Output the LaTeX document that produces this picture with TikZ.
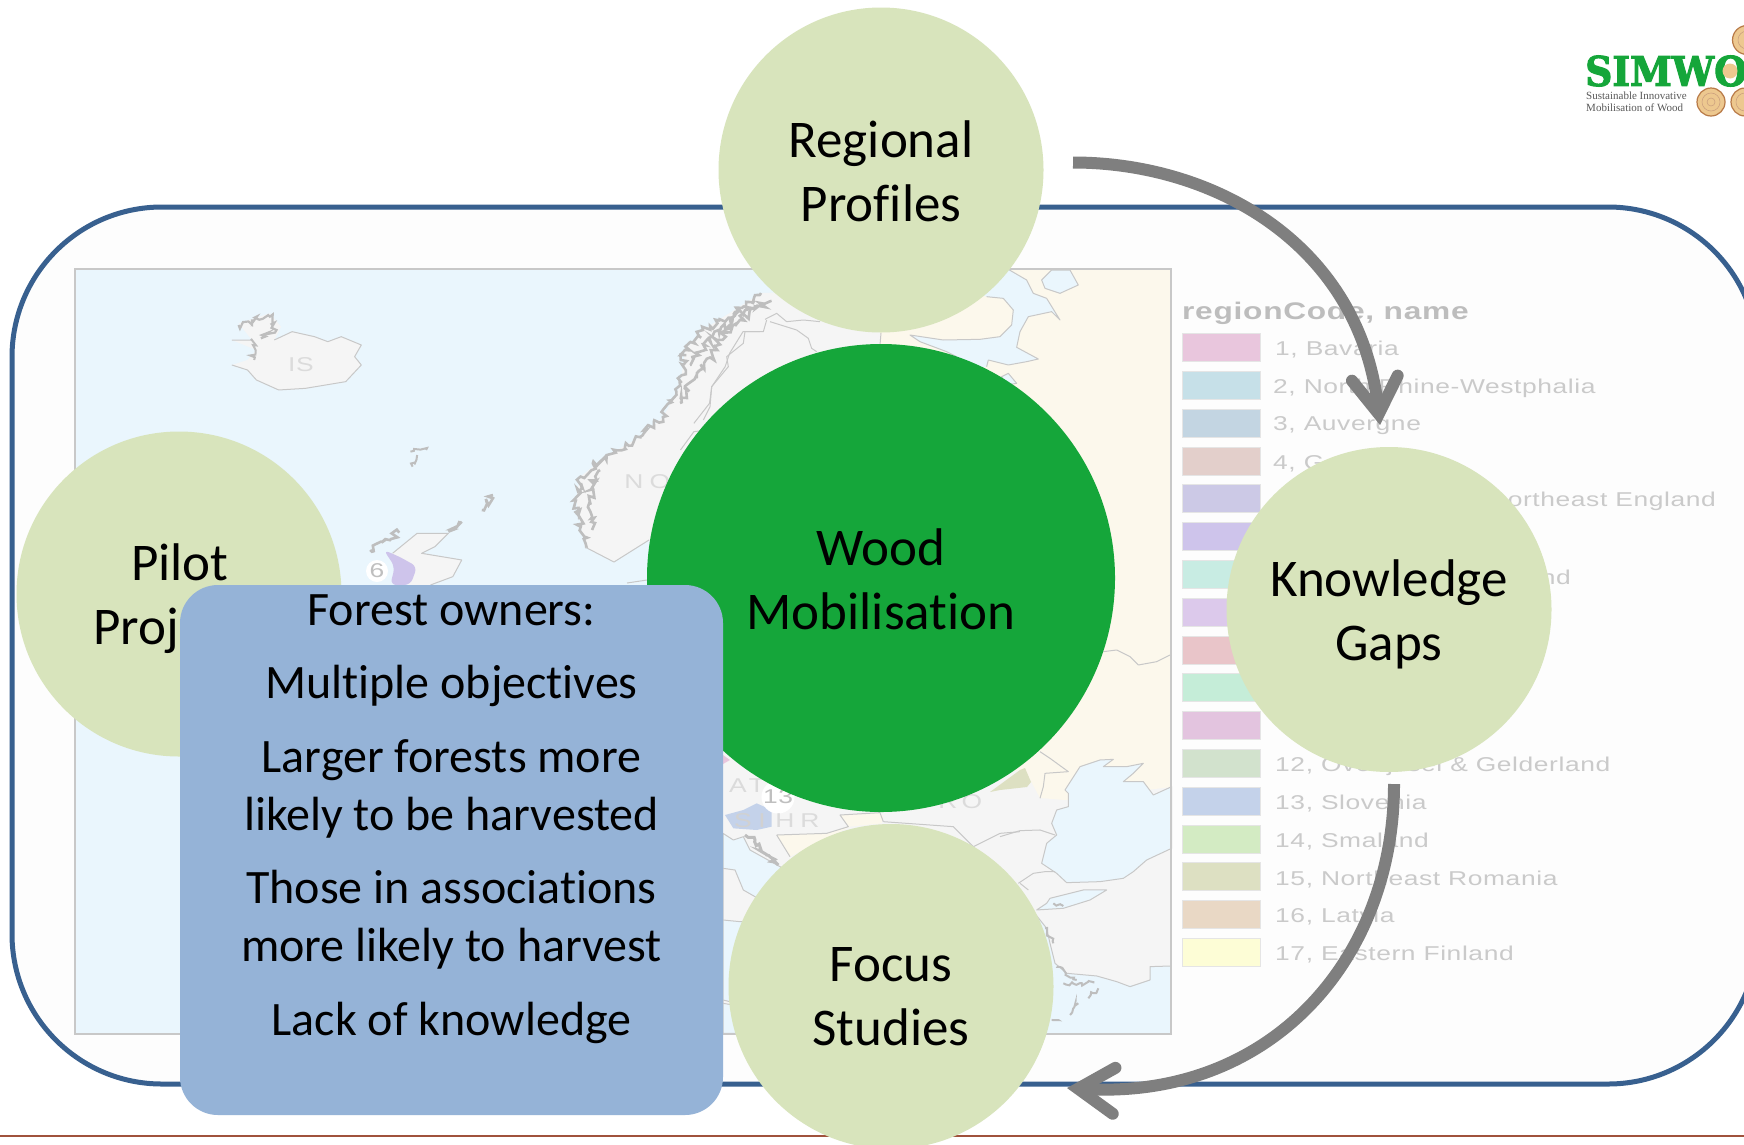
\documentclass[tikz,border=0pt]{standalone}
\usepackage{fontspec}
\usetikzlibrary{arrows.meta,decorations.pathmorphing}
\setmainfont[Ligatures=NoCommon]{Carlito}
\newfontfamily\lgfont[FakeStretch=1.32,LetterSpace=3]{Liberation Sans}
\newfontfamily\lgbold[FakeStretch=1.32,LetterSpace=3]{Liberation Sans Bold}
\newfontfamily\logofont[FakeStretch=0.92,FakeBold=2.5]{DejaVu Serif}
\newfontfamily\logosub{Liberation Serif}
\definecolor{sea}{HTML}{EAF6FD}
\definecolor{land}{HTML}{F5F5F5}
\definecolor{cream}{HTML}{FCF8EC}
\definecolor{coast}{HTML}{C8C8C8}
\definecolor{rag}{HTML}{BEBEBE}
\definecolor{frame}{HTML}{C8C8C8}
\definecolor{lgtext}{HTML}{CACACA}
\definecolor{pale}{HTML}{D8E4BC}
\definecolor{wood}{HTML}{15A63A}
\definecolor{boxblue}{HTML}{95B3D7}
\definecolor{panel}{HTML}{38608F}
\definecolor{panelfill}{HTML}{FDFDFD}
\definecolor{arrowgray}{HTML}{7F7F7F}
\definecolor{logotan}{HTML}{EDC88F}
\definecolor{logoedge}{HTML}{B87A48}
\definecolor{lg1}{HTML}{E9C6DD}\definecolor{lg2}{HTML}{C6E0E8}\definecolor{lg3}{HTML}{C3D5E2}
\definecolor{lg4}{HTML}{E3CFCB}\definecolor{lg5}{HTML}{CCC9E6}\definecolor{lg6}{HTML}{CEC4EB}
\definecolor{lg7}{HTML}{C8ECE3}\definecolor{lg8}{HTML}{DCC9EB}\definecolor{lg9}{HTML}{E9C5C9}
\definecolor{lg10}{HTML}{C5EDD8}\definecolor{lg11}{HTML}{E3C4DF}\definecolor{lg12}{HTML}{D2E2CD}
\definecolor{lg13}{HTML}{C4D2EA}\definecolor{lg14}{HTML}{D3EBC3}\definecolor{lg15}{HTML}{DDE0C2}
\definecolor{lg16}{HTML}{E9D8C5}\definecolor{lg17}{HTML}{FDFDD6}
\tikzset{
  bubble/.style={circle,fill=pale,minimum size=325pt,inner sep=0pt},
  bubbletext/.style={inner sep=0pt,align=center,text=black,font=\fontsize{53}{64}\selectfont},
  coastline/.style={draw=coast,line width=1pt,line join=round},
  ragged/.style={draw=rag,line width=2.6pt,decorate,decoration={random steps,segment length=2.6pt,amplitude=4pt}},
  landtag/.style={inner sep=0pt,text=black!14,font=\lgfont\fontsize{20}{20}\selectfont},
  lgentry/.style={anchor=west,inner sep=0pt,text=lgtext,font=\lgfont\fontsize{20}{20}\selectfont},
  swatch/.style={draw=black!10,line width=1pt},
  flow/.style={draw=arrowgray,line width=12pt,
    -{Straight Barb[length=36pt,width=46pt,line cap=round,line join=miter]}},
  logring/.style={circle,draw=logoedge,line width=1.2pt,fill=logotan,inner sep=0pt},
  logline/.style={draw=logoedge!70,line width=.6pt,fill=none},
}
\begin{document}
\begin{tikzpicture}[x=1pt,y=-1pt]
\useasboundingbox (0,0) rectangle (1744,1144);
\clip (0,0) rectangle (1744,1144);
\pgfmathsetseed{7}
\fill[white] (0,0) rectangle (1744,1144);

% outer panel
\draw[panel,line width=5pt,fill=panelfill,rounded corners=150pt] (12,207) rectangle (1758,1084);

% map base
\fill[sea] (75,269) rectangle (1171,1034);
% northern land
\fill[land] (761,293)--(703,330)--(685,350)--(680,387)--(663,417)--(640,437)--(605,457)--(580,477)--(576,500)--(585,547)--(614,562)--(649,540)--(700,600)--(880,600)--(880,290)--cycle;
% southern land
\fill[land] (723,700) rectangle (1171,985);
% eastern land
\fill[cream] (880,270)--(1171,270)--(1171,787)--(1065,800)--(1040,798)--(1032,783)--(1025,770)--(1000,772)--(880,770)--cycle;
\draw[coastline] (880,345)--(881,333);
\fill[lg15] (990,792)--(1020,770)--(1025,768)--(1031,782)--(1027,787)--(1000,790)--cycle;

% norway coast
\draw[ragged] (761,293)--(735,312)--(703,330)--(685,350)--(680,387)--(663,417)--(640,437)--(605,457)--(580,477)--(576,500)--(585,547);
\draw[ragged] (680,403)--(697,373)--(713,357)--(717,340)--(740,320)--(770,300);
\draw[ragged] (600,470)--(590,490)--(592,530);
\draw[ragged] (690,365)--(705,345)--(730,320)--(755,305);
\draw[coastline] (585,547)--(614,562)--(649,540);
\draw[coastline] (627,583)--(647,580);

% iceland and islands
\begin{scope}[shift={(60,260)},xscale=0.4464,yscale=0.3333]
  \fill[land] (385,240)--(430,240)--(400,190)--(470,160)--(495,200)--(480,240)--(520,215)--(570,230)--(600,245)--(630,230)--(675,255)--(660,290)--(675,315)--(640,365)--(550,385)--(490,390)--(440,360)--(420,330)--(385,315)--(420,300)--(440,270)--cycle;
  \draw[coastline] (385,240)--(430,240) (420,330)--(385,315) (480,240)--(520,215)--(570,230)--(600,245)--(630,230)--(675,255)--(660,290)--(675,315)--(640,365)--(550,385)--(490,390)--(440,360)--(420,330);
  \draw[ragged,line width=2.2pt] (400,195)--(470,170)--(485,210)--(450,235);
  \draw[ragged,line width=2pt] (430,240)--(435,300);
  \draw[ragged,line width=2pt] (785,575)--(820,570) (800,585)--(790,620);
  \draw[ragged] (970,705)--(945,750);
  \draw[ragged] (900,785)--(870,815);
  \draw[ragged] (695,870)--(760,818);
  \fill[land] (800,820)--(870,820)--(840,860)--(810,880)--(900,900)--(880,950)--(830,975)--(780,975)--(745,880)--cycle;
  \draw[coastline] (745,880)--(800,820)--(870,820)--(840,860)--(810,880)--(900,900)--(880,950)--(830,975);
  \fill[lg6,rounded corners=6pt] (725,870)--(760,890)--(800,920)--(785,975)--(740,975)--(750,920)--cycle;
  % inner borders of Norway
  \draw[coastline] (1568,215)--(1530,215)--(1500,280)--(1490,320)--(1460,380)--(1455,430)--(1420,490);
  \draw[coastline] (1390,570)--(1420,515)--(1450,510);
\end{scope}
\node[circle,fill=white,minimum size=22pt,inner sep=0pt,text=black!25,font=\lgfont\fontsize{20}{20}\selectfont] (six) at (377,571) {6};
\node[landtag] (tagis) at (301,365) {IS};
\node[landtag] (tagn) at (634,482) {N};
\node[landtag] (tago) at (660,482) {O};

% Barents and White Sea
\begin{scope}[shift={(680,260)},scale=0.3333]
  \fill[sea] (800,28)--(985,28)--(1040,60)--(1060,100)--(1100,115)--(1140,180)--(1115,155)--(1045,170)--(1020,215)--(1010,262)--(1075,297)--(1040,305)--(985,315)--(925,300)--(920,320)--(860,330)--(830,290)--(800,275)--(720,245)--(690,225)--(790,240)--(900,238)--(960,230)--(995,195)--(1000,150)--(970,115)--(920,110)--(850,80)--cycle;
  \draw[coastline] (985,28)--(1040,60)--(1060,100)--(1100,115)--(1140,180)--(1115,155)--(1045,170)--(1020,215)--(1010,262)--(1075,297)--(1040,305)--(985,315)--(925,300)--(920,320);
  \draw[coastline] (830,290)--(800,275)--(720,245)--(690,225)--(790,240)--(900,238)--(960,230)--(995,195)--(1000,150)--(970,115)--(920,110);
  \filldraw[coastline,fill=sea] (1085,60)--(1115,30)--(1170,30)--(1195,75)--(1140,100)--(1095,85)--cycle;
  \filldraw[coastline,fill=sea] (965,350)--(985,340)--(1010,370)--(980,375)--cycle;
  \draw[coastline] (255,178)--(290,160)--(320,185)--(370,180)--(420,185);
  \draw[coastline] (260,180)--(250,215)--(195,215)--(190,250)--(140,290)--(145,320)--(95,380)--(90,440)--(70,480);
  \draw[coastline] (270,185)--(350,210)--(385,235)--(395,265)--(410,275);
\end{scope}

% Black Sea and south east
\begin{scope}[shift={(1000,550)},scale=0.3333]
  \filldraw[coastline,fill=sea] (240,650)--(300,630)--(340,628)--(310,650)--(380,650)--(430,640)--(400,670)--(370,695)--(430,695)--(460,735)--(515,710)--(515,895)--(440,930)--(400,965)--(370,985)--(300,995)--(200,998)--(170,970)--(125,940)--(140,880)--(170,855)--(155,820)--(170,780)--(205,770)--(205,730)--(195,720)--cycle;
  \draw[coastline] (310,305)--(350,300)--(390,320)--(415,345)--(470,335)--(510,315);
  \draw[coastline] (120,605)--(150,625)--(205,665)--(135,670)--(130,710)--(120,745);
  \draw[coastline] (0,860)--(60,842)--(120,840)--(165,855);
  \draw[coastline] (55,1000)--(100,970)--(135,965)--(165,965);
  \draw[coastline] (60,1000)--(85,1020);
  \filldraw[coastline,fill=sea] (150,1045)--(250,1020)--(320,1020)--(270,1050)--(190,1075)--(110,1080)--(140,1060)--cycle;
  \fill[sea] (100,1085)--(140,1135)--(150,1180)--(165,1240)--(200,1270)--(290,1278)--(350,1295)--(390,1310)--(450,1290)--(450,1250)--(515,1248)--(515,1450)--(0,1450)--(0,1100)--cycle;
  \draw[coastline] (100,1085)--(140,1135)--(150,1180)--(165,1240)--(200,1270)--(290,1278)--(350,1295)--(390,1310)--(450,1290)--(450,1250)--(515,1248);
  \draw[ragged,line width=2pt,decoration={amplitude=2.5pt}] (135,1135)--(160,1180) (170,1250)--(230,1290) (190,1300)--(280,1300) (265,1345)--(295,1315) (210,1395)--(235,1360) (155,1410)--(175,1410);
  \draw[ragged,line width=2pt,decoration={amplitude=1.5pt}] (160,1060)--(190,1068);
\end{scope}

% Adriatic, Italy
\begin{scope}[shift={(700,720)},scale=0.3333]
  \fill[cream] (230,345)--(270,410)--(400,345)--(450,320)--(545,310)--(550,290)--(540,278)--(420,285)--(445,320)--(380,340)--cycle;
  \draw[coastline] (230,345)--(270,410) (230,345)--(380,340)--(445,320)--(420,285)--(540,278)--(550,305);
  \draw[coastline] (550,305)--(760,320)--(820,380)--(900,340)--(960,335);
  \filldraw[coastline,fill=sea] (69,340)--(100,360)--(130,350)--(150,390)--(240,440)--(400,600)--(400,940)--(69,940)--cycle;
  \filldraw[coastline,fill=land] (69,445)--(105,450)--(130,510)--(165,530)--(250,600)--(120,605)--(69,600)--cycle;
  \filldraw[coastline,fill=land] (69,840)--(90,845)--(100,855)--(69,850)--cycle;
  \draw[ragged,line width=3pt,decoration={amplitude=3pt}] (135,345)--(165,360)--(200,405)--(235,435);
  \fill[lg13] (75,285)--(130,270)--(170,250)--(215,270)--(215,320)--(170,330)--(100,325)--cycle;
  \fill[lg1] (69,105)--(90,120)--(69,132)--cycle;
\end{scope}
\node[landtag] (taga) at (738,786) {A};
\node[landtag] (tagt) at (757,786) {T};
\node[circle,fill=white,minimum size=20pt,inner sep=0pt,text=black!25,font=\lgfont\fontsize{20}{20}\selectfont] (thirteen) at (778,797) {13};
\node[landtag,text=black!18] (tags) at (743,821) {S};
\node[landtag,text=black!18] (tagi) at (762,821) {I};
\node[landtag] (tagh) at (785,821) {H};
\node[landtag] (tagr) at (810,821) {R};
\node[landtag] (tagrr) at (948,802) {R};
\node[landtag] (tagoo) at (972,802) {O};

% map frame
\draw[frame,line width=2pt] (75,269) rectangle (1171,1034);

% legend
\node[anchor=west,inner sep=0pt,text=black!26,font=\lgbold\fontsize{24}{24}\selectfont] (lgtitle) at (1182,313) {regionCode, name};
\foreach \i in {1,...,17}{
  \pgfmathsetmacro{\ytop}{333.6+37.8*(\i-1)}
  \draw[swatch,fill=lg\i] (1182,\ytop) rectangle (1260,\ytop+28);
}
\node[lgentry] (e1) at (1275,350) {1, Bavaria};
\node[lgentry] (e2) at (1273,388) {2, North Rhine-Westphalia};
\node[lgentry] (e3) at (1273,425.7) {3, Auvergne};
\node[lgentry] (e4) at (1273,463.5) {4, G};
\node[lgentry,anchor=east] (e5) at (1716,501.3) {ortheast England};
\node[lgentry,anchor=east] (e7) at (1571,577) {nd};
\node[lgentry] (e12) at (1275,766) {12, Overijssel \& Gelderland};
\node[lgentry] (e13) at (1275,803.7) {13, Slovenia};
\node[lgentry] (e14) at (1275,841.5) {14, Smaland};
\node[lgentry] (e15) at (1275,879.3) {15, Northeast Romania};
\node[lgentry] (e16) at (1275,917) {16, Latvia};
\node[lgentry] (e17) at (1275,954.9) {17, Eastern Finland};

% footer rule
\draw[draw={rgb,255:red,160;green,82;blue,60},line width=1.5pt] (0,1136)--(1744,1136);

% logo
\node[anchor=west,inner sep=0pt,text=wood,font=\logofont\bfseries\fontsize{41}{41}\selectfont] (logoword) at (1585,71) {SIMWO};
\node[circle,fill=logotan,minimum size=15pt,inner sep=0pt] (logohole) at (1730,71) {};
\node[logring,minimum size=28pt] (loga) at (1711,102) {};
\node[logring,minimum size=28pt] (logb) at (1745,102) {};
\node[logring,minimum size=29pt] (logc) at (1747,40) {};
\draw[logline] (loga) circle (9pt) (loga) circle (4pt) (logb) circle (9pt) (logc) circle (9pt);
\node[anchor=west,inner sep=0pt,text=black!65,font=\logosub\fontsize{11}{11}\selectfont] (logos1) at (1586,96) {Sustainable Innovative};
\node[anchor=west,inner sep=0pt,text=black!65,font=\logosub\fontsize{11}{11}\selectfont] (logos2) at (1586,108) {Mobilisation of Wood};

% bubbles
\node[bubble] (regional) at (881,170) {};
\node[bubbletext] (regionaltext) at (881,171) {Regional\\Profiles};
\node[bubble,fill=wood,minimum size=468pt] (wood) at (881,578) {};
\node[bubbletext] (woodtext) at (881,579) {Wood\\Mobilisation};
\node[bubble] (pilot) at (179,594) {};
\node[bubbletext] (pilottext) at (180,599) {Pilot\\Proj\phantom{ects}};
\node[bubble] (gaps) at (1389,609.5) {};
\node[bubbletext] (gapstext) at (1389,614) {Knowledge\\Gaps};
\node[bubble] (focus) at (891,986.5) {};
\node[bubbletext] (focustext) at (891,997) {Focus\\Studies};

% text box
\node[fill=boxblue,rounded corners=38pt,minimum width=543pt,minimum height=530pt,inner sep=0pt] (box) at (451.5,850) {};
\node[inner sep=0pt,align=center,font=\fontsize{48}{58}\selectfont] (boxtext) at (451.5,819) {Forest owners:\\[15.5pt]Multiple objectives\\[15.5pt]Larger forests more\\likely to be harvested\\[15.5pt]Those in associations\\more likely to harvest\\[15.5pt]Lack of knowledge};

% connectors
\coordinate (a1) at (1073,162.5);
\coordinate (a2) at (1380,425);
\coordinate (b1) at (1394,784);
\coordinate (b2) at (1067,1088);
\draw[flow] (a1) .. controls (1215,162.5) and (1360,245) .. (a2);
\draw[flow] (b1) .. controls (1394,960) and (1270,1100) .. (b2);
\end{tikzpicture}
\end{document}
